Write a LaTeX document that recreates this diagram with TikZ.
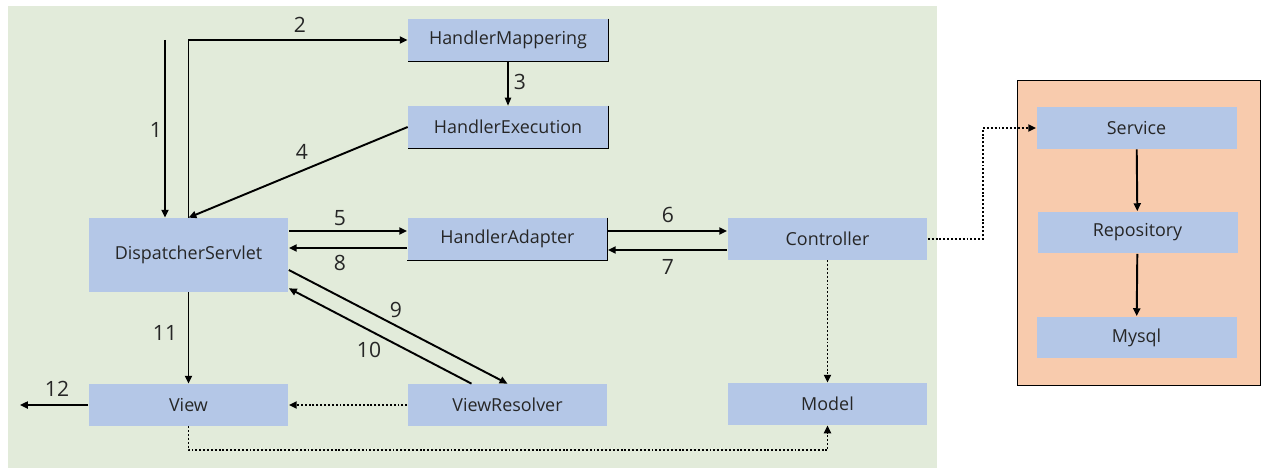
\documentclass[tikz,border=0pt]{standalone}
\usepackage{fontspec}
\setmainfont{Open Sans}
\usepackage{xcolor}
\usetikzlibrary{arrows.meta,positioning,calc}

\definecolor{boxblue}{HTML}{B4C7E7}
\definecolor{bggreen}{HTML}{E2EBDA}
\definecolor{bgorange}{HTML}{F8CBAD}

\begin{document}
\begin{tikzpicture}[
    x=0.02cm, y=-0.02cm,
    box/.style={fill=boxblue, minimum width=4cm, minimum height=0.84cm, inner sep=0pt, font=\fontsize{10.2}{12}\selectfont, text=black!85},
    lbl/.style={font=\fontsize{12}{14}\selectfont, text=black!85},
    arr/.style={line width=1.1pt, -{Triangle[length=4.5pt,width=4pt]}},
    thinarr/.style={line width=0.6pt, -{Triangle[length=4.5pt,width=3.6pt]}},
    dotarr/.style={line width=1.1pt, dash pattern=on 1.1pt off 1.1pt, -{Triangle[length=4.5pt,width=4pt]}},
    edge/.style={line width=0.6pt}
]
\useasboundingbox (0,0) rectangle (1266,476);

% backgrounds
\fill[bggreen] (8,6) rectangle (937,468);
\draw[fill=bgorange, line width=0.5pt] (1017,80) rectangle (1260,385);

% nodes
\node[box] (hm) at (508,40) {HandlerMappering};
\node[box] (he) at (508,127) {HandlerExecution};
\node[box, minimum height=1.48cm] (ds) at (188.5,255) {DispatcherServlet};
\node[box] (ha) at (507.5,239) {HandlerAdapter};
\node[box] (ct) at (827.5,239) {Controller};
\node[box] (vw) at (188.5,405) {View};
\node[box] (vr) at (507.5,405) {ViewResolver};
\node[box] (md) at (827.5,404) {Model};
\node[box] (sv) at (1136.5,128) {Service};
\node[box] (rp) at (1137.5,232.5) {Repository};
\node[box] (ms) at (1136.5,337.5) {Mysql};

% edges on some boxes
\draw[edge] (hm.north east) -- (hm.south east) -- (hm.south west);
\draw[edge] (he.north east) -- (he.south east) -- (he.south west);
\draw[edge] (ha.north east) -- (ha.south east) -- (ha.south west);

% request flow
\coordinate (req) at (165,40);
\coordinate (resp) at (20,405);
\draw[arr] (req) -- (req |- ds.north);
\draw[arr] (ds.north) |- (hm.west);
\draw[thinarr] (hm) -- (he);
\draw[arr] (he.west) -- (ds.north);
\draw[arr] ($(ha.west -| ds.east)+(0,-8)$) -- ($(ha.west)+(0,-8)$);
\draw[arr] ($(ha.west)+(0,9)$) -- ($(ha.west -| ds.east)+(0,9)$);
\draw[arr] ($(ha.east)+(0,-8)$) -- ($(ct.west)+(0,-8)$);
\draw[arr] ($(ct.west)+(0,11)$) -- ($(ha.east)+(0,11)$);
\draw[arr] ($(ds.east)+(0,15)$) -- (vr.north);
\draw[arr] ($(vr.north)+(-36,0)$) -- ($(ds.south east)+(0,-4)$);
\draw[arr] (ds.south) -- (vw.north);
\draw[arr] (vw.west) -- (resp);

% dotted links
\draw[dotarr] (vr.west) -- (vw.east);
\draw[dotarr] (ct.south) -- (md.north);
\draw[dotarr] (vw.south) -- ++(0,24) -| (md.south);
\draw[dotarr] (ct.east) -- ++(55,0) |- (sv.west);

% persistence
\draw[arr] (sv) -- (rp);
\draw[arr] (rp) -- (ms);

% step numbers
\node[lbl] at (156,130) {1};
\node[lbl] at (300,25) {2};
\node[lbl] at (520,82) {3};
\node[lbl] at (302,152) {4};
\node[lbl] at (340,218) {5};
\node[lbl] at (668,215) {6};
\node[lbl] at (668,267) {7};
\node[lbl] at (340,263) {8};
\node[lbl] at (396,310) {9};
\node[lbl] at (369,350) {10};
\node[lbl] at (165,333) {11};
\node[lbl] at (57,389) {12};
\end{tikzpicture}
\end{document}
